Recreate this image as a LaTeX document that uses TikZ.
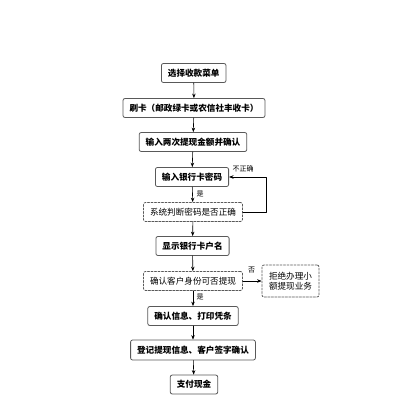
\documentclass[tikz,border=0pt]{standalone}
\usepackage{fontspec}
\setmainfont{Noto Sans CJK SC}
\usetikzlibrary{arrows.meta}
\tikzset{
  stepbox/.style={draw=black!65,line width=0.8pt,rounded corners=2pt,fill=white,
    minimum height=19pt,inner xsep=6.5pt,font=\fontsize{8.6}{10}\selectfont\bfseries},
  checkbox/.style={stepbox,dashed,dash pattern=on 2pt off 1.5pt,font=\fontsize{8.6}{10}\selectfont},
  arr/.style={-{Stealth[length=4.5pt,width=3.5pt]},line width=0.6pt},
  tag/.style={font=\fontsize{7}{8}\selectfont,inner sep=1pt}
}
\begin{document}
\begin{tikzpicture}[x=1pt,y=-1pt,line cap=round,line join=round]
  \useasboundingbox (0,0) rectangle (400,418);
  \node[stepbox] (menu) at (193.7,73) {选择收款菜单};
  \node[stepbox] (card) at (194,108) {刷卡（邮政绿卡或农信社丰收卡）};
  \node[stepbox] (amount) at (193,142) {输入两次提现金额并确认};
  \node[stepbox] (pwd) at (192,177) {输入银行卡密码};
  \node[checkbox] (judge) at (193,212) {系统判断密码是否正确};
  \node[stepbox] (name) at (192.5,246) {显示银行卡户名};
  \node[checkbox] (ident) at (193,281) {确认客户身份可否提现};
  \node[checkbox,align=center,inner xsep=7pt,minimum height=32pt] (refuse) at (290.5,281)
    {拒绝办理小\\额提现业务};
  \node[stepbox] (print) at (193,316) {确认信息、打印凭条};
  \node[stepbox,minimum height=20pt] (sign) at (193,350) {登记提现信息、客户签字确认};
  \node[stepbox] (pay) at (194,384.5) {支付现金};
  \coordinate (loop) at (266.7,195);
  \draw[arr] (menu) -- (card);
  \draw[arr] (card) -- (amount);
  \draw[arr] (amount) -- (pwd);
  \draw[arr] (pwd) -- (judge);
  \draw[arr] (judge.east) -| (loop) |- (pwd.east);
  \draw[arr] (judge) -- (name);
  \draw[arr] (name) -- (ident);
  \draw[arr] (ident) -- (refuse);
  \draw[arr] (ident) -- (print);
  \draw[arr] (print) -- (sign);
  \draw[arr] (sign) -- (pay);
  \node[tag] (wrong) at (243,169) {不正确};
  \node[tag] (yes1) at (200,193.5) {是};
  \node[tag] (no) at (251.7,270.5) {否};
  \node[tag] (yes2) at (200,296.5) {是};
\end{tikzpicture}
\end{document}
